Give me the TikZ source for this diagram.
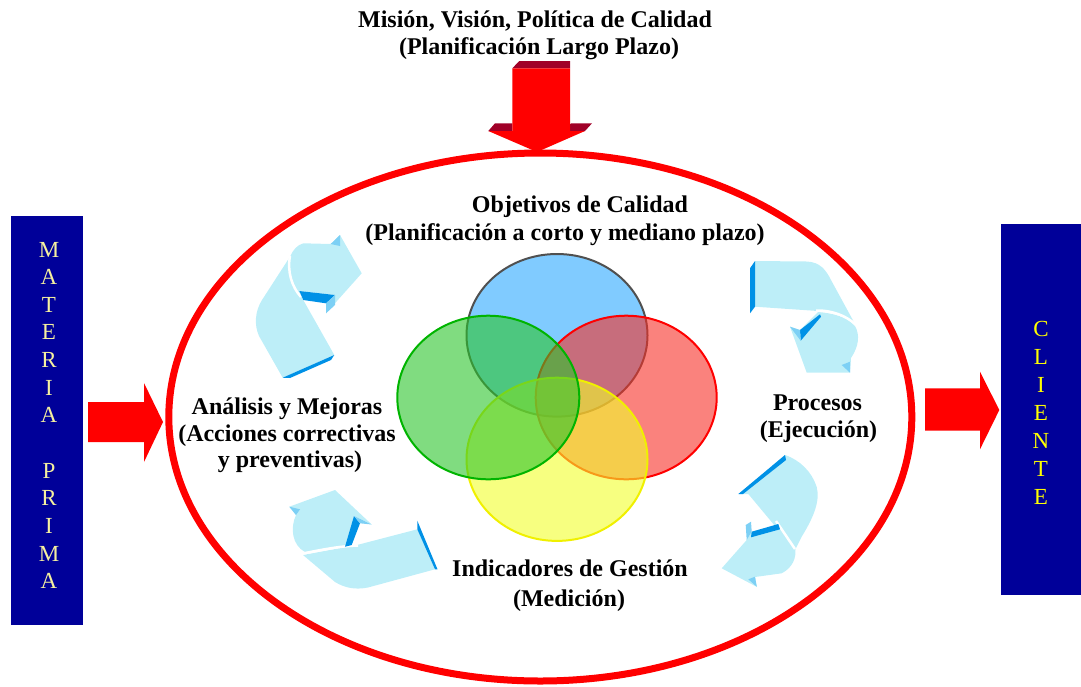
\documentclass[tikz,border=0pt]{standalone}
\usepackage{fontspec}
\setmainfont{Liberation Serif}
\definecolor{ribcyan}{RGB}{189,238,248}
\definecolor{ribblue}{RGB}{0,145,230}
\definecolor{riblight}{RGB}{125,208,245}
\definecolor{darkred}{RGB}{160,0,40}
\definecolor{boxblue}{RGB}{0,0,153}
\definecolor{mpyellow}{RGB}{245,240,160}
\definecolor{clyellow}{RGB}{255,255,0}
\definecolor{vblue}{RGB}{43,168,255}
\definecolor{vgreen}{RGB}{43,197,43}
\definecolor{vred}{RGB}{247,47,38}
\definecolor{vyellow}{RGB}{242,255,43}
\definecolor{vbluel}{RGB}{80,80,80}
\definecolor{vgreenl}{RGB}{0,180,0}
\definecolor{vyellowl}{RGB}{240,240,0}
\tikzset{
  lbl/.style={font=\fontsize{24}{28}\selectfont\bfseries, inner sep=0pt, anchor=base},
  mlet/.style={font=\fontsize{23}{27}\selectfont, text=mpyellow, inner sep=0pt, anchor=base},
  clet/.style={font=\fontsize{23}{27}\selectfont, text=clyellow, inner sep=0pt, anchor=base},
  bluebox/.style={fill=boxblue, draw=none, inner sep=0pt},
  rib/.style={fill=ribcyan},
  ribdark/.style={fill=ribblue},
  riblt/.style={fill=riblight},
  gapline/.style={draw=white, line width=2.5pt},
  redarrow/.style={fill=red},
  redface/.style={fill=darkred},
  venn/.style={line width=2pt},
}
\begin{document}
\begin{tikzpicture}[x=1pt,y=-1pt]
\useasboundingbox (0,0) rectangle (1081,686);

% side boxes
\node[bluebox, minimum width=72pt, minimum height=409pt] (mpbox) at (47,420.5) {};
\node[bluebox, minimum width=80pt, minimum height=371pt] (clbox) at (1041,409.5) {};
\foreach \l [count=\i from 0] in {M,A,T,E,R,I,A}
  \node[mlet] (ma\i) at (49,257+27.65*\i) {\l};
\foreach \l [count=\i from 8] in {P,R,I,M,A}
  \node[mlet] (pr\i) at (49,257+27.65*\i) {\l};
\foreach \l [count=\i from 0] in {C,L,I,E,N,T,E}
  \node[clet] (cl\i) at (1041,336+28.1*\i) {\l};

% big red ellipse
\draw[red, line width=7pt] (540.3,417) ellipse [x radius=371.5, y radius=264];

% input / output arrows
\fill[redarrow] (88,402) -- (144,402) -- (144,383) -- (163,422) -- (144,462) -- (144,442) -- (88,442) -- cycle;
\fill[redarrow] (925,388.3) -- (980,388.3) -- (980,371.7) -- (999.3,410) -- (980,449.3) -- (980,430.7) -- (925,430.7) -- cycle;

% top 3D arrow
\fill[redface] (512.3,68.3) -- (519.3,61) -- (570,61) -- (570,68.3) -- cycle;
\fill[redface] (488.3,131) -- (495,123.3) -- (512.3,123.3) -- (512.3,131) -- cycle;
\fill[redface] (563,131) -- (571,123.3) -- (592,123.3) -- (585,131) -- cycle;
\fill[redarrow] (512.3,68.3) -- (570,68.3) -- (570,131) -- (585,131) -- (537,152) -- (488.3,131) -- (512.3,131) -- cycle;

% Venn circles (blue, red, yellow, green)
\path[venn, fill=vblue, fill opacity=0.6, draw=vbluel] (557,335.3) ellipse [x radius=90.5, y radius=81.3];
\path[venn, fill=vred, fill opacity=0.6, draw=red] (626.2,397.5) ellipse [x radius=90.5, y radius=81.8];
\path[venn, fill=vyellow, fill opacity=0.6, draw=vyellowl] (557,459.3) ellipse [x radius=90.5, y radius=81.6];
\path[venn, fill=vgreen, fill opacity=0.6, draw=vgreenl] (488.3,397.5) ellipse [x radius=91, y radius=81.8];

% ribbon A (top left)
\fill[rib] (282.7,377.7) -- (334.3,355) -- (301,296) -- (290,256.7) -- (262,300) .. controls (255,311) and (254,325) .. (259,336) -- cycle;
\fill[rib] (303.3,243.3) -- (330.7,244) -- (340,235) -- (361.7,273.3) -- (326,313.3) -- (326,303.3) -- (335,295) -- (299.3,291) .. controls (292,280) and (288,268) .. (290,256.7) .. controls (293,250) and (297,245) .. cycle;
\draw[gapline] (290,256) .. controls (287,272) and (292,287) .. (301,297);
\fill[ribdark] (299.3,291) -- (335,295) -- (326,303.3) -- (303.3,300) -- cycle;
\fill[riblt] (335,295) -- (335,305) -- (326,313.3) -- (326,303.3) -- cycle;
\fill[riblt] (330.7,244) -- (340,235) -- (340,246) -- cycle;
\fill[ribdark] (282.7,377.7) -- (334.3,355) -- (331,360) -- (290,378) -- cycle;

% ribbon B (top right)
\fill[rib] (755,261) -- (806.7,261.5) .. controls (820,262) and (826,270) .. (831,280) -- (855,324) .. controls (842,315) and (830,311) .. (818,311) -- (755,306.7) -- cycle;
\fill[rib] (790,326.7) -- (800,330) -- (818,312) .. controls (832,313) and (848,317) .. (855,326) .. controls (860,335) and (859,346) .. (851,358) -- (850,372.7) -- (806.7,372.7) -- cycle;
\draw[gapline] (816,310.5) .. controls (830,310) and (846,315) .. (856,325);
\fill[ribdark] (800,330) -- (820,314.3) -- (821,316.7) -- (800.7,340.7) -- cycle;
\fill[riblt] (790,326.7) -- (800,330) -- (800.7,340.7) -- cycle;
\fill[riblt] (841.7,365) -- (850,361.7) -- (850,372.7) -- cycle;
\fill[ribdark] (750,268.3) -- (755,261) -- (755,306.7) -- (750,313.3) -- cycle;

% ribbon C (bottom left)
\fill[rib] (417.3,529.3) -- (435,569.3) -- (368,587.5) .. controls (355,590) and (345,588) .. (335,582) -- (303,555) -- (357,545) -- cycle;
\fill[rib] (289.3,506.7) -- (335,490) -- (371.7,524.5) -- (354,516) -- (346,546) .. controls (330,548) and (315,550) .. (305,552) .. controls (292,545) and (290,528) .. (296,515) -- cycle;
\draw[gapline] (303,553.5) .. controls (320,550) and (340,546) .. (358,545.5);
\fill[ribdark] (354,516) -- (360,523.3) -- (351.7,545) -- (345,546.7) -- cycle;
\fill[riblt] (354,516) -- (371.7,524.5) -- (360,523.3) -- cycle;
\fill[riblt] (289.3,506.7) -- (300,509.3) -- (296,515) -- cycle;
\fill[ribdark] (417.3,520.7) -- (437.5,569.3) -- (435,569.3) -- (417.3,529.3) -- cycle;

% ribbon D (bottom right)
\fill[rib] (739,494) -- (785,455) .. controls (800,460) and (812,472) .. (816.7,487) .. controls (820,500) and (815,515) .. (801.7,536.7) -- (795,550) -- (748.3,494) -- cycle;
\fill[rib] (721.7,568.3) -- (746.7,540) -- (751.7,531.7) -- (778.3,525) -- (795,548) .. controls (797,558) and (792,568) .. (781.7,573.3) -- (755,577) -- (757,587) -- cycle;
\draw[gapline] (776,521) -- (795,549);
\fill[ribdark] (751.7,531.7) -- (778.3,524) -- (780,529.3) -- (751,537.3) -- cycle;
\fill[riblt] (745.7,525) -- (751,521.7) -- (751.7,531.7) -- (746.7,540) -- cycle;
\fill[riblt] (748.3,579.3) -- (755,576.7) -- (756.7,586.7) -- cycle;
\fill[ribdark] (738.3,494) -- (785,455) -- (786,460) -- (743,494) -- cycle;

% texts
\node[lbl] (t1) at (535,27) {Misión, Visión, Política de Calidad};
\node[lbl] (t2) at (539,54) {(Planificación Largo Plazo)};
\node[lbl] (o1) at (580,212) {Objetivos de Calidad};
\node[lbl] (o2) at (565,240) {(Planificación a corto y mediano plazo)};
\node[lbl] (a1) at (287,414) {Análisis y Mejoras};
\node[lbl] (a2) at (287,441) {(Acciones correctivas};
\node[lbl] (a3) at (290,467) {y preventivas)};
\node[lbl] (p1) at (817.5,410) {Procesos};
\node[lbl] (p2) at (818.5,437) {(Ejecución)};
\node[lbl] (i1) at (570,576) {Indicadores de Gestión};
\node[lbl] (i2) at (569,606) {(Medición)};
\end{tikzpicture}
\end{document}
